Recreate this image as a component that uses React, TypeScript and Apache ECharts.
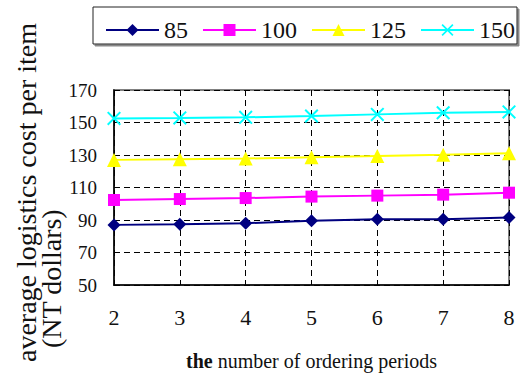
import React, { useEffect, useRef } from "react";
import * as echarts from "echarts";

const periods = [2, 3, 4, 5, 6, 7, 8];
const s85 = [87, 87.4, 88, 89.6, 90.5, 90.5, 91.5];
const s100 = [102.3, 102.9, 103.5, 104.4, 105, 105.6, 106.8];
const s125 = [127, 127.4, 127.8, 128.6, 129.4, 130.2, 131.1];
const s150 = [152.5, 152.8, 153.2, 154, 155, 156, 156.5];
const seriesNames = ["85", "100", "125", "150"];
const yTitle1 = "average logistics cost per item";
const yTitle2 = "(NT dollars)";

const FONT = "'Liberation Serif', 'Times New Roman', Times, serif";
const X_SYMBOL =
  "path://M0,1L1,0L5,4L9,0L10,1L6,5L10,9L9,10L5,6L1,10L0,9L4,5Z";

export default function App() {
  const ref = useRef<HTMLDivElement>(null);
  useEffect(() => {
    if (!ref.current) return;
    const chart = echarts.init(ref.current, null, { renderer: "svg" });
    const mk = (arr: number[]) => arr.map((v, i) => [periods[i], v]);
    const seriesDefs = [
      { name: seriesNames[0], data: mk(s85), color: "#000080", symbol: "diamond", size: 13 },
      { name: seriesNames[1], data: mk(s100), color: "#FF00FF", symbol: "rect", size: 12 },
      { name: seriesNames[2], data: mk(s125), color: "#FFFF00", symbol: "triangle", size: 14 },
      { name: seriesNames[3], data: mk(s150), color: "#00FFFF", symbol: X_SYMBOL, size: 14 },
    ];
    chart.setOption({
      animation: false,
      backgroundColor: "#fff",
      textStyle: { fontFamily: FONT },
      graphic: [
        {
          type: "rect",
          shape: { x: 93, y: 7, width: 424, height: 37 },
          style: {
            fill: "#fff",
            stroke: "#222",
            lineWidth: 1,
            shadowColor: "#888",
            shadowOffsetX: 2,
            shadowOffsetY: 2,
            shadowBlur: 0,
          },
          z: -1,
        },
        {
          type: "text",
          x: 26,
          y: 362,
          rotation: Math.PI / 2,
          style: {
            text: yTitle1,
            fontSize: 28,
            fontFamily: FONT,
            fill: "#111",
            align: "left",
            verticalAlign: "middle",
          },
        },
        {
          type: "text",
          x: 51,
          y: 348,
          rotation: Math.PI / 2,
          style: {
            text: yTitle2,
            fontSize: 28,
            fontFamily: FONT,
            fill: "#111",
            align: "left",
            verticalAlign: "middle",
          },
        },
      ],
      legend: {
        top: 13,
        left: 100,
        width: 421,
        itemWidth: 53,
        itemHeight: 15,
        itemGap: 14,
        textStyle: { fontSize: 24, fontFamily: FONT, color: "#111" },
        data: seriesNames,
      },
      grid: {
        left: 114,
        right: 12,
        top: 90,
        bottom: 91,
        show: true,
        borderColor: "#808080",
        borderWidth: 2,
      },
      xAxis: {
        type: "value",
        min: 2,
        max: 8,
        interval: 1,
        name: "{b|the} number of ordering periods",
        nameLocation: "middle",
        nameGap: 66,
        nameTextStyle: {
          fontSize: 20,
          fontFamily: FONT,
          color: "#111",
          rich: { b: { fontSize: 20, fontWeight: "bold", fontFamily: FONT, color: "#111" } },
        },
        axisLine: { show: true, lineStyle: { color: "#000", width: 1.5 } },
        axisTick: { show: false },
        axisLabel: { fontSize: 22, fontFamily: FONT, color: "#111", margin: 21 },
        splitLine: { show: true, lineStyle: { color: "#000", type: [6, 4], width: 1 } },
      },
      yAxis: {
        type: "value",
        min: 50,
        max: 170,
        interval: 20,
        axisLine: { show: true, lineStyle: { color: "#000", width: 1.5 } },
        axisTick: { show: false },
        axisLabel: { fontSize: 19, fontFamily: FONT, color: "#111", margin: 17 },
        splitLine: { show: true, lineStyle: { color: "#000", type: [6, 4], width: 1 } },
      },
      series: seriesDefs.map((s) => ({
        type: "line",
        name: s.name,
        data: s.data,
        symbol: s.symbol,
        symbolSize: s.size,
        showSymbol: true,
        lineStyle: { color: s.color, width: 2 },
        itemStyle: { color: s.color, borderWidth: 0 },
        color: s.color,
        z: 3,
      })),
    });
    return () => chart.dispose();
  }, []);
  return <div ref={ref} style={{ width: 521, height: 376, position: "absolute", left: 0, top: 0 }} />;
}
